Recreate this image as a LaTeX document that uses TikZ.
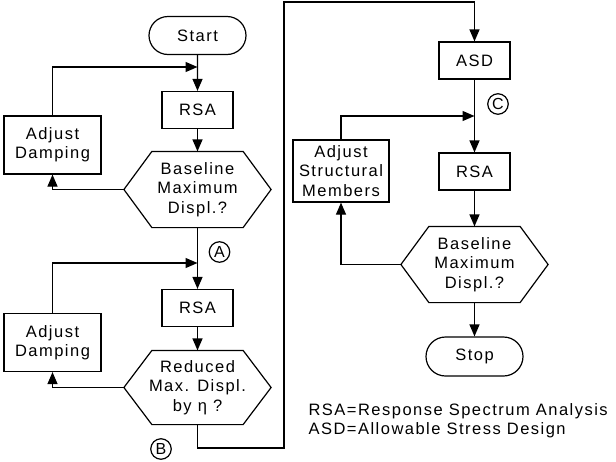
\documentclass[tikz,border=0pt]{standalone}
\usepackage{fontspec}
\setmainfont{Liberation Sans}[LetterSpace=9]
\newfontfamily\plainsans{Liberation Sans}
\usetikzlibrary{arrows.meta,shapes.misc}
\newcommand\dfont{\fontsize{16.5}{19.3}\selectfont}
\newcommand\hexdraw[1]{\draw (#1.west) -- ([xshift=28pt]#1.north west) -- ([xshift=-28pt]#1.north east) -- (#1.east) -- ([xshift=-28pt]#1.south east) -- ([xshift=28pt]#1.south west) -- cycle;}
\begin{document}
\begin{tikzpicture}[x=1pt,y=-1pt,line width=1.2pt,
  >={Triangle[length=12pt,width=10pt]},
  box/.style={draw,rectangle,inner sep=0pt,align=center,font=\dfont},
  procbox/.style={box,minimum width=71pt,minimum height=37pt},
  adjbox/.style={box,minimum width=97pt,minimum height=58pt},
  term/.style={box,rounded rectangle,minimum width=97pt,minimum height=38pt},
  hexbox/.style={inner sep=0pt,align=center,font=\dfont,minimum width=146pt,minimum height=75pt},
  circmark/.style={draw,circle,line width=1.2pt,inner sep=0pt,minimum size=20.5pt,font=\plainsans\fontsize{16}{18}\selectfont},
  legendtext/.style={anchor=base west,inner sep=0pt,font=\dfont}]
\useasboundingbox (0,0) rectangle (616,461);
% left column
\node[term] (start) at (197.5,35.5) {Start};
\node[procbox] (rsa1) at (197.5,110) {RSA};
\node[hexbox] (h1) at (197.5,189.5) {Baseline\\Maximum\\Displ.?};
\hexdraw{h1}
\node[adjbox] (adj1) at (52.5,145) {Adjust\\Damping};
\coordinate (j1) at (197.5,67);
\node[procbox] (rsa2) at (197.5,308) {RSA};
\node[hexbox,minimum height=73pt] (h2) at (197.5,387.5) {Reduced\\Max. Displ.\\by η ?};
\hexdraw{h2}
\node[adjbox] (adj2) at (52.5,342.5) {Adjust\\Damping};
\coordinate (j2) at (197.5,263);
\node[circmark] (ma) at (219.5,252) {A};
\node[circmark] (mb) at (161,449) {B};
% right column
\node[procbox] (asd) at (474.5,60.5) {ASD};
\node[procbox] (rsa3) at (474.5,171.5) {RSA};
\node[hexbox] (h3) at (474.5,264.5) {Baseline\\Maximum\\Displ.?};
\hexdraw{h3}
\node[box,minimum width=96pt,minimum height=62pt] (adj3) at (341,171) {Adjust\\Structural\\Members};
\node[term,minimum height=39pt] (stop) at (474.5,356.5) {Stop};
\coordinate (j3) at (474.5,116);
\node[circmark] (mc) at (498,104) {C};
% route from left to right column
\coordinate (b1) at (197.5,448);
\coordinate (b2) at (284,448);
\coordinate (b3) at (284,2);
\coordinate (b4) at (474.5,2);
% connectors
\draw[->] (start) -- (rsa1);
\draw[->] (adj1.north) |- (j1);
\draw[->] (rsa1) -- (h1);
\draw[->] (h1.west) -| (adj1.south);
\draw[->] (h1.south) -- (rsa2.north);
\draw[->] (adj2.north) |- (j2);
\draw[->] (rsa2) -- (h2);
\draw[->] (h2.west) -| (adj2.south);
\draw[->] (h2.south) -- (b1) -- (b2) -- (b3) -- (b4) -- (asd.north);
\draw[->] (asd) -- (rsa3);
\draw[->] (adj3.north) |- (j3);
\draw[->] (rsa3) -- (h3);
\draw[->] (h3.west) -| (adj3.south);
\draw[->] (h3.south) -- (stop.north);
% legend
\node[legendtext] (leg1) at (308,415) {RSA=Response Spectrum Analysis};
\node[legendtext] (leg2) at (308,434) {ASD=Allowable Stress Design};
\end{tikzpicture}
\end{document}
